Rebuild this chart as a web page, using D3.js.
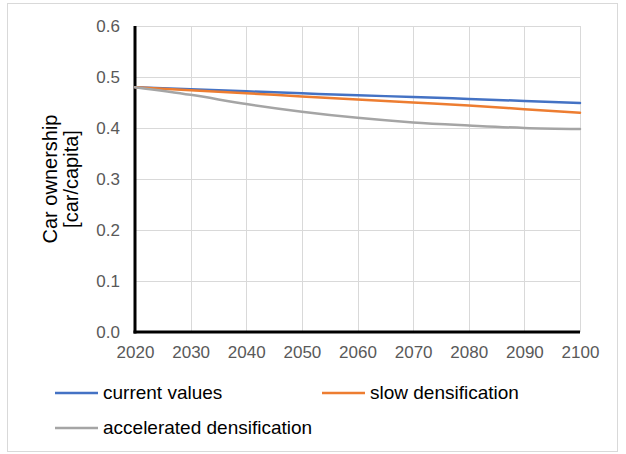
<!DOCTYPE html>
<html>
<head>
<meta charset="utf-8">
<script src="https://cdn.jsdelivr.net/npm/d3@7"></script>
<style>
  html, body { margin: 0; padding: 0; background: #fff; }
  svg { display: block; font-family: Arial, "Liberation Sans", sans-serif; }
</style>
</head>
<body>
<svg id="chart" width="626" height="454"></svg>
<script>
// Projected car ownership (cars per capita), 2020–2100
const years = [2020, 2030, 2040, 2050, 2060, 2070, 2080, 2090, 2100];
const currentValues = [0.480, 0.476, 0.472, 0.468, 0.464, 0.461, 0.457, 0.453, 0.449];
const slowDensification = [0.480, 0.474, 0.468, 0.462, 0.456, 0.450, 0.444, 0.437, 0.430];
const acceleratedDensification = [0.480, 0.465, 0.447, 0.432, 0.420, 0.411, 0.405, 0.400, 0.398];
const seriesNames = ["current values", "slow densification", "accelerated densification"];
const seriesColors = ["#4472C4", "#ED7D31", "#A5A5A5"];
const yTicks = [0.0, 0.1, 0.2, 0.3, 0.4, 0.5, 0.6];
const yTitle = ["Car ownership", "[car/capita]"];

const series = [currentValues, slowDensification, acceleratedDensification];

const svg = d3.select("#chart");
const margin = { left: 135, right: 46, top: 26, bottom: 122 };
const W = 626, H = 454;

// outer frame
svg.append("rect")
  .attr("x", 7.5).attr("y", 3.5)
  .attr("width", 610).attr("height", 448)
  .attr("fill", "#fff").attr("stroke", "#d9d9d9").attr("stroke-width", 1);

const x = d3.scaleLinear().domain([2020, 2100]).range([margin.left, W - margin.right]);
const y = d3.scaleLinear().domain([0, 0.6]).range([H - margin.bottom, margin.top]);

// gridlines
const grid = svg.append("g");
grid.selectAll("line.h").data(yTicks).join("line")
  .attr("x1", x(2020)).attr("x2", x(2100))
  .attr("y1", d => Math.round(y(d)) + 0.5).attr("y2", d => Math.round(y(d)) + 0.5)
  .attr("stroke", "#d9d9d9").attr("stroke-width", 1);
grid.selectAll("line.v").data(years).join("line")
  .attr("x1", d => Math.round(x(d)) + 0.5).attr("x2", d => Math.round(x(d)) + 0.5)
  .attr("y1", y(0)).attr("y2", y(0.6))
  .attr("stroke", "#d9d9d9").attr("stroke-width", 1);

// y axis labels
const yAxis = d3.axisLeft(y).tickValues(yTicks).tickFormat(d3.format(".1f")).tickSize(0).tickPadding(15);
const gy = svg.append("g").attr("transform", `translate(${x(2020)},0)`).call(yAxis);
gy.select(".domain").remove();
gy.selectAll("text").attr("fill", "#595959").style("font-size", "17px");

// x axis labels
const xAxis = d3.axisBottom(x).tickValues(years).tickFormat(d3.format("d")).tickSize(0).tickPadding(14);
const gx = svg.append("g").attr("transform", `translate(0,${y(0)})`).call(xAxis);
gx.select(".domain").remove();
gx.selectAll("text").attr("fill", "#595959").style("font-size", "17px");

// axis lines
svg.append("line")
  .attr("x1", x(2020)).attr("x2", x(2020))
  .attr("y1", y(0) + 1.5).attr("y2", y(0.6))
  .attr("stroke", "#000").attr("stroke-width", 3);
svg.append("line")
  .attr("x1", x(2020) - 1.5).attr("x2", x(2100))
  .attr("y1", y(0)).attr("y2", y(0))
  .attr("stroke", "#000").attr("stroke-width", 3);

// series lines
const line = d3.line()
  .x((d, i) => x(years[i]))
  .y(d => y(d))
  .curve(d3.curveMonotoneX);
svg.append("g").selectAll("path").data(series).join("path")
  .attr("d", line)
  .attr("fill", "none")
  .attr("stroke", (d, i) => seriesColors[i])
  .attr("stroke-width", 2.5)
  .attr("stroke-linecap", "round");

// y-axis title
const yc = (y(0) + y(0.6)) / 2;
const title = svg.append("text")
  .attr("transform", `translate(57,${yc}) rotate(-90)`)
  .attr("text-anchor", "middle")
  .attr("fill", "#000")
  .style("font-size", "20px");
title.selectAll("tspan").data(yTitle).join("tspan")
  .attr("x", 0)
  .attr("dy", (d, i) => i === 0 ? 0 : 21)
  .text(d => d);

// legend
const legendPos = [[55, 399], [322, 399], [55, 434]];
const legend = svg.append("g").selectAll("g").data(seriesNames).join("g")
  .attr("transform", (d, i) => `translate(${legendPos[i][0]},${legendPos[i][1]})`);
legend.append("line")
  .attr("x1", 0).attr("x2", 43).attr("y1", -6).attr("y2", -6)
  .attr("stroke", (d, i) => seriesColors[i]).attr("stroke-width", 2.5);
legend.append("text")
  .attr("x", 48).attr("y", 0)
  .attr("fill", "#000")
  .style("font-size", "19px")
  .text(d => d);
</script>
</body>
</html>
